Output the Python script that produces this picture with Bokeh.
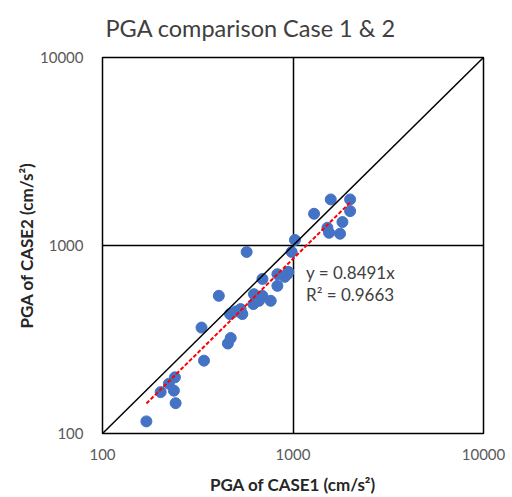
from bokeh.plotting import figure
from bokeh.models import Range1d, FixedTicker, NumeralTickFormatter, Label, ColumnDataSource
from bokeh.embed import file_html
from bokeh.resources import INLINE

# PGA values (cm/s^2) for each station, case 1 vs case 2
case1 = [170, 202, 223, 240, 237, 242, 341, 331, 455, 471, 408, 467, 500, 542, 531,
         571, 624, 619, 663, 691, 764, 691, 828, 828, 935, 905, 944, 984, 1024,
         1290, 1578, 1994, 1994, 1818, 1516, 1546, 1766]
case2 = [116, 166, 184, 199, 169, 145, 244, 366, 301, 322, 540, 432, 446, 432, 459,
         924, 551, 488, 508, 540, 508, 664, 610, 704, 704, 681, 724, 924, 1070,
         1475, 1758, 1758, 1524, 1333, 1243, 1169, 1155]

slope = 0.8491
r2 = 0.9663
axis_ticks = [100, 1000, 10000]

grey = "#595959"
dark = "#262626"
font = "Lato"

p = figure(width=512, height=497, x_axis_type="log", y_axis_type="log",
           x_range=Range1d(100, 10000), y_range=Range1d(100, 10000),
           output_backend="svg", toolbar_location=None,
           min_border_left=102, min_border_right=29,
           min_border_top=56, min_border_bottom=64)

p.title.text = "PGA comparison Case 1 & 2"
p.title.text_font = font
p.title.text_font_size = "23.5px"
p.title.text_font_style = "normal"
p.title.text_color = "#404040"
p.title.align = "left"
p.title.offset = 3
p.title.standoff = 27
p.title.vertical_align = "top"

p.outline_line_color = "black"
p.outline_line_width = 1.5

for ax, lab in ((p.xaxis[0], "PGA of CASE1 (cm/s²)"), (p.yaxis[0], "PGA of CASE2 (cm/s²)")):
    ax.ticker = FixedTicker(ticks=axis_ticks, minor_ticks=[])
    ax.formatter = NumeralTickFormatter(format="0")
    ax.axis_line_color = None
    ax.major_tick_line_color = None
    ax.minor_tick_line_color = None
    ax.major_tick_out = 0
    ax.major_tick_in = 0
    ax.minor_tick_out = 0
    ax.minor_tick_in = 0
    ax.major_label_text_font = font
    ax.major_label_text_font_size = "15px"
    ax.major_label_text_color = grey
    ax.axis_label = lab
    ax.axis_label_text_font = font
    ax.axis_label_text_font_size = "17px"
    ax.axis_label_text_font_style = "bold"
    ax.axis_label_text_color = dark

p.xaxis.major_label_standoff = 15
p.xaxis.axis_label_standoff = 11
p.yaxis.major_label_standoff = 19
p.yaxis.axis_label_standoff = 0

for g in (p.xgrid[0], p.ygrid[0]):
    g.ticker = FixedTicker(ticks=axis_ticks, minor_ticks=[])
    g.grid_line_color = "black"
    g.grid_line_width = 1.5

src = ColumnDataSource(dict(x=case1, y=case2))
p.scatter("x", "y", source=src, size=11, fill_color="#4472C4", line_color="#4472C4")

# 1:1 reference line
p.line([100, 10000], [100, 10000], line_color="black", line_width=1.5)

# linear trendline through the origin
xs = [min(case1), max(case1)]
p.line(xs, [slope * v for v in xs], line_color="#FF0000", line_width=2, line_dash="4 2")

p.add_layout(Label(x=1170, y=722, text=f"y = {slope}x", text_font=font,
                   text_font_size="17px", text_color="#404040", text_baseline="middle"))
p.add_layout(Label(x=1170, y=546, text=f"R² = {r2}", text_font=font,
                   text_font_size="17px", text_color="#404040", text_baseline="middle"))

open("out.html", "w").write(file_html(p, INLINE))
